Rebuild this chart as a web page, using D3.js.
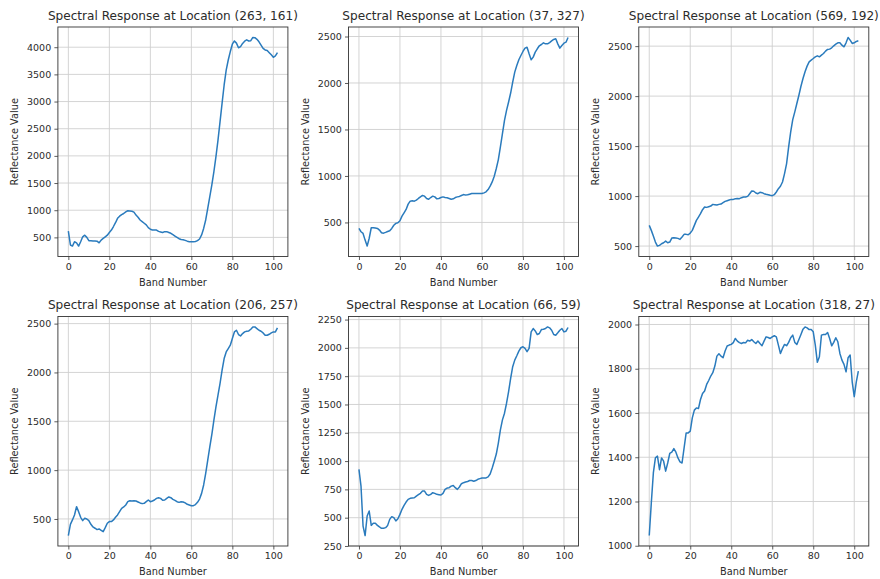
<!DOCTYPE html>
<html>
<head>
<meta charset="utf-8">
<script src="https://cdn.jsdelivr.net/npm/d3@7"></script>
<style>
  html, body { margin: 0; padding: 0; background: #fff; }
  svg { display: block; font-family: "DejaVu Sans", sans-serif; }
</style>
</head>
<body>
<svg id="chart" width="880" height="579"></svg>
<script>
// Band indices shared by every spectrum
const bands = d3.range(103);

// Pixel locations (column, row) of each sampled spectrum
const locations = ["(263, 161)", "(37, 327)", "(569, 192)", "(206, 257)", "(66, 59)", "(318, 27)"];

// Reflectance per band at each location
const spectrum_263_161 = [617,360,340,420,400,340,420,510,540,500,
  440,440,435,435,430,400,450,480,510,540,
  590,635,700,770,850,890,920,940,970,990,
  985,980,965,910,870,820,790,760,730,680,
  650,635,635,635,610,600,590,605,605,590,
  575,550,525,500,475,460,455,445,430,420,
  420,420,425,440,470,545,665,820,1035,1250,
  1465,1710,1985,2290,2630,2970,3305,3580,3765,3920,
  4055,4115,4075,3990,4010,4070,4110,4135,4115,4120,
  4180,4175,4145,4100,4040,3980,3950,3940,3900,3860,
  3815,3840,3900];

const spectrum_37_327 = [436,400,382,310,246,330,443,443,440,436,
  418,390,385,393,403,410,436,470,490,496,
  518,568,604,640,697,729,733,729,740,758,
  775,790,783,758,750,768,783,775,754,758,
  768,775,768,765,758,750,754,768,775,780,
  790,800,794,797,804,811,811,811,811,811,
  811,818,829,854,890,936,997,1080,1176,1312,
  1455,1598,1706,1795,1892,2010,2117,2189,2250,2296,
  2339,2375,2385,2314,2250,2278,2332,2368,2400,2414,
  2432,2421,2421,2435,2453,2468,2475,2421,2375,2404,
  2428,2439,2490];

const spectrum_569_192 = [707,657,600,540,500,507,523,533,550,533,
  540,580,583,580,577,567,590,617,617,613,
  630,657,707,757,790,824,864,890,887,894,
  900,917,914,910,917,920,934,947,954,961,
  967,967,974,977,974,984,991,991,997,1024,
  1051,1048,1031,1024,1038,1034,1024,1018,1014,1008,
  1004,1014,1041,1074,1098,1141,1225,1325,1492,1642,
  1765,1842,1926,2009,2099,2176,2243,2300,2343,2360,
  2376,2393,2403,2393,2410,2426,2450,2467,2470,2483,
  2503,2520,2533,2533,2510,2493,2533,2587,2560,2527,
  2533,2547,2553];

const spectrum_206_257 = [330,445,490,541,626,575,517,483,507,500,
  483,445,418,405,391,398,384,370,411,456,
  473,473,490,517,541,575,609,623,643,677,
  687,684,687,684,674,664,657,660,677,694,
  677,684,694,711,718,711,691,694,711,725,
  718,701,691,677,670,677,674,664,650,643,
  636,636,647,670,704,762,848,967,1103,1239,
  1365,1512,1648,1767,1887,2023,2142,2210,2244,2279,
  2347,2415,2432,2388,2374,2398,2415,2422,2425,2442,
  2466,2466,2449,2432,2422,2405,2381,2381,2391,2405,
  2415,2415,2456];

const spectrum_66_59 = [926,779,426,342,515,559,432,450,450,432,
  418,406,406,412,432,485,509,500,471,491,
  529,574,609,638,662,671,674,676,691,703,
  715,735,735,706,697,706,721,715,706,703,
  700,715,750,762,765,779,785,765,750,771,
  800,809,815,820,828,828,822,828,839,845,
  851,851,851,860,886,939,998,1062,1159,1276,
  1364,1423,1511,1614,1731,1834,1892,1930,1971,2001,
  2010,1995,1966,1995,2141,2171,2150,2118,2127,2162,
  2165,2171,2185,2177,2156,2118,2112,2133,2156,2171,
  2141,2147,2180];

const spectrum_318_27 = [1046,1193,1329,1397,1405,1344,1397,1382,1337,1374,
  1417,1423,1439,1423,1397,1379,1374,1442,1510,1510,
  1518,1578,1613,1623,1620,1661,1688,1699,1729,1747,
  1767,1782,1812,1857,1868,1857,1850,1880,1903,1907,
  1910,1918,1937,1925,1918,1914,1919,1917,1929,1925,
  1932,1922,1914,1925,1914,1904,1925,1944,1941,1937,
  1944,1949,1944,1907,1869,1892,1910,1904,1919,1940,
  1952,1919,1910,1932,1955,1979,1989,1985,1977,1977,
  1967,1907,1829,1854,1952,1955,1955,1964,1937,1904,
  1919,1940,1922,1869,1839,1820,1786,1850,1862,1741,
  1674,1741,1789];

const spectra = [spectrum_263_161, spectrum_37_327, spectrum_569_192,
                 spectrum_206_257, spectrum_66_59, spectrum_318_27];

// Tick labels
const xTickValues = [0, 20, 40, 60, 80, 100];
const yTicks_263_161 = [500, 1000, 1500, 2000, 2500, 3000, 3500, 4000];
const yTicks_37_327 = [500, 1000, 1500, 2000, 2500];
const yTicks_569_192 = [500, 1000, 1500, 2000, 2500];
const yTicks_206_257 = [500, 1000, 1500, 2000, 2500];
const yTicks_66_59 = [250, 500, 750, 1000, 1250, 1500, 1750, 2000, 2250];
const yTicks_318_27 = [1000, 1200, 1400, 1600, 1800, 2000];
const yTickSets = [yTicks_263_161, yTicks_37_327, yTicks_569_192,
                   yTicks_206_257, yTicks_66_59, yTicks_318_27];

// Layout of the 2 x 3 grid of axes
const colLeft = [57.9, 348.5, 638.8];
const rowTop = [27, 316.5];
const boxW = 230, boxH = 229.5;

const lineColor = "#2a7bbd";
const textColor = "#2b2b2b";
const svg = d3.select("#chart");

// Pad a data extent by 5% on each side
function padded(ext) {
  const span = ext[1] - ext[0];
  return [ext[0] - span * 0.05, ext[1] + span * 0.05];
}

spectra.forEach((values, i) => {
  const col = i % 3, row = Math.floor(i / 3);
  const g = svg.append("g")
    .attr("transform", `translate(${colLeft[col]},${rowTop[row]})`);

  const x = d3.scaleLinear()
    .domain(padded(d3.extent(bands)))
    .range([0, boxW]);
  const y = d3.scaleLinear()
    .domain(padded(d3.extent(values)))
    .range([boxH, 0]);

  // grid
  g.append("g").selectAll("line")
    .data(xTickValues).join("line")
    .attr("x1", d => x(d)).attr("x2", d => x(d))
    .attr("y1", 0).attr("y2", boxH)
    .attr("stroke", "#cfcfcf").attr("stroke-width", 0.9);
  g.append("g").selectAll("line")
    .data(yTickSets[i]).join("line")
    .attr("x1", 0).attr("x2", boxW)
    .attr("y1", d => y(d)).attr("y2", d => y(d))
    .attr("stroke", "#cfcfcf").attr("stroke-width", 0.9);

  // spectrum line
  const line = d3.line()
    .x((d, k) => x(bands[k]))
    .y(d => y(d));
  g.append("path")
    .datum(values)
    .attr("d", line)
    .attr("fill", "none")
    .attr("stroke", lineColor)
    .attr("stroke-width", 1.5)
    .attr("stroke-linejoin", "round");

  // axes
  const fmt = d3.format("d");
  const xAxis = g.append("g")
    .attr("transform", `translate(0,${boxH})`)
    .call(d3.axisBottom(x).tickValues(xTickValues).tickFormat(fmt).tickSize(3.5).tickPadding(3.2));
  const yAxis = g.append("g")
    .call(d3.axisLeft(y).tickValues(yTickSets[i]).tickFormat(fmt).tickSize(3.5).tickPadding(3.2));
  [xAxis, yAxis].forEach(a => {
    a.select(".domain").remove();
    a.selectAll(".tick line").attr("stroke", "#333").attr("stroke-width", 0.8);
    a.selectAll(".tick text")
      .attr("fill", textColor)
      .style("font-size", "9.5px")
      .style("font-family", "'DejaVu Sans', sans-serif");
  });

  // frame
  g.append("rect")
    .attr("x", 0).attr("y", 0)
    .attr("width", boxW).attr("height", boxH)
    .attr("fill", "none")
    .attr("stroke", "#333")
    .attr("stroke-width", 0.9);

  // title and axis labels
  g.append("text")
    .attr("x", boxW / 2).attr("y", -7.5)
    .attr("text-anchor", "middle")
    .attr("fill", textColor)
    .style("font-size", "12.1px")
    .text(`Spectral Response at Location ${locations[i]}`);
  g.append("text")
    .attr("x", boxW / 2).attr("y", boxH + 29)
    .attr("text-anchor", "middle")
    .attr("fill", textColor)
    .style("font-size", "9.8px")
    .text("Band Number");
  g.append("text")
    .attr("transform", `translate(-39.6,${boxH / 2}) rotate(-90)`)
    .attr("text-anchor", "middle")
    .attr("fill", textColor)
    .style("font-size", "9.8px")
    .text("Reflectance Value");
});
</script>
</body>
</html>
